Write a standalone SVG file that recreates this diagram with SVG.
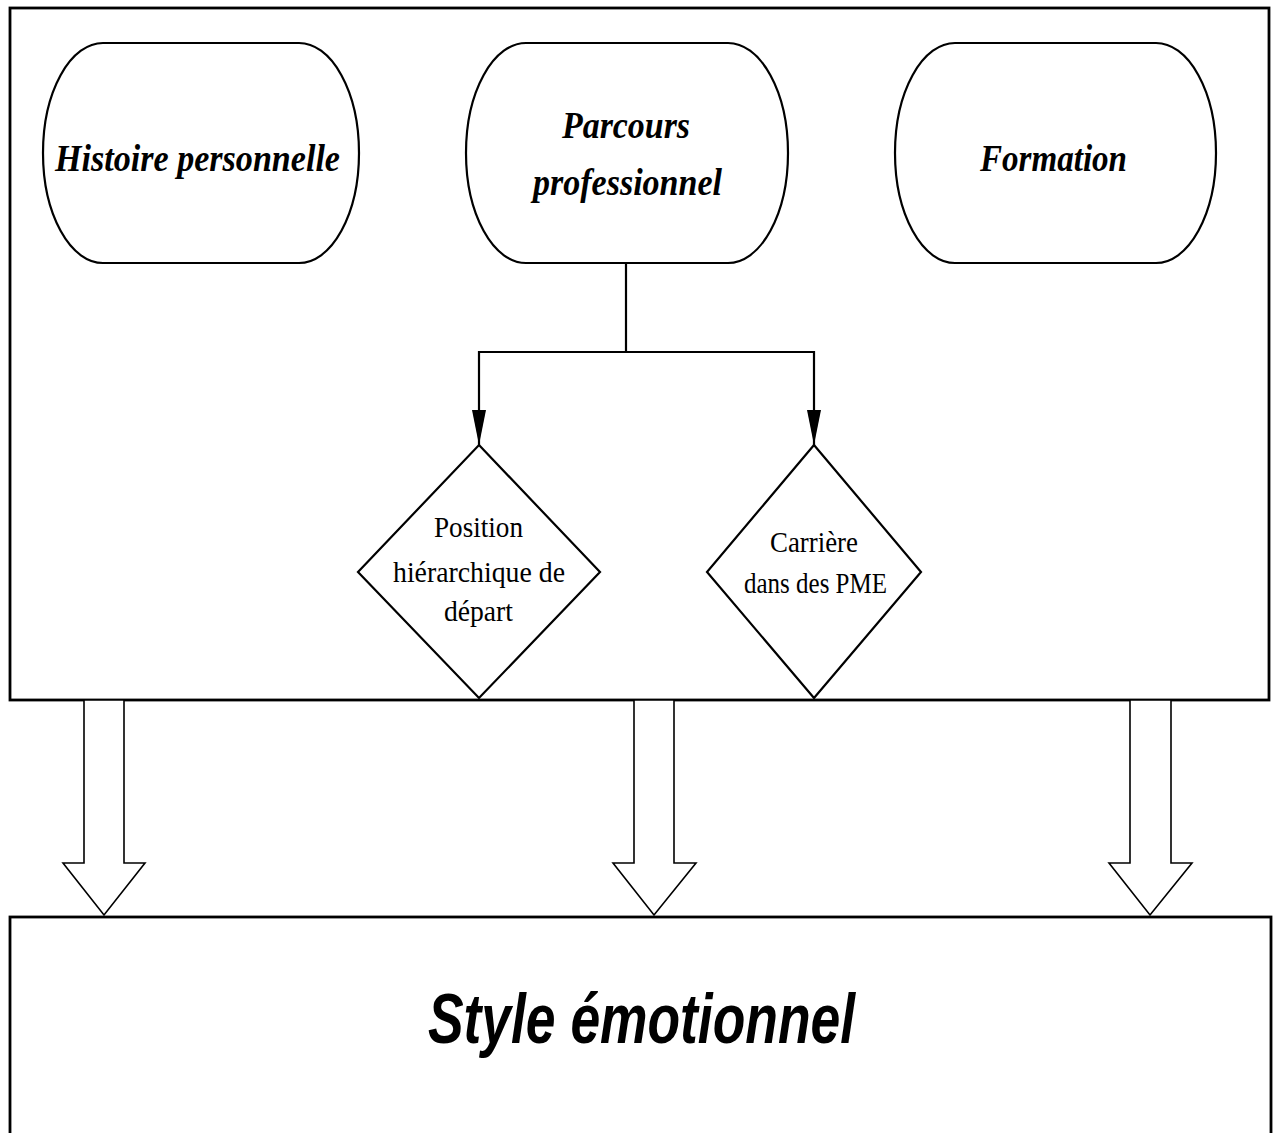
<svg xmlns="http://www.w3.org/2000/svg" width="1274" height="1133" viewBox="0 0 1274 1133">
<style>
.box{fill:#fff;stroke:#000;stroke-width:2.8}
.node{fill:#fff;stroke:#000;stroke-width:2.2}
.big{fill:#fff;stroke:#000;stroke-width:1.6}
.conn{fill:none;stroke:#000;stroke-width:2.2}
.ti{font-family:"Liberation Serif",serif;font-style:italic;font-weight:bold;font-size:38px;fill:#000;text-anchor:start}
.tr{font-family:"Liberation Serif",serif;font-size:29px;fill:#000;text-anchor:start}
.ts{font-family:"Liberation Sans",Arial,sans-serif;font-style:italic;font-weight:bold;font-size:70px;fill:#000}
</style>
<defs>
<marker id="ah" viewBox="0 0 35 14" refX="35" refY="7" markerWidth="35" markerHeight="14" markerUnits="userSpaceOnUse" orient="auto">
<path d="M0,0 L35,7 L0,14 z" fill="#000"/>
</marker>
</defs>
<rect width="1274" height="1133" fill="#fff"/>
<g id="container">
<rect class="box" x="10" y="8" width="1259" height="692"/>
</g>
<g id="style-emotionnel">
<rect class="box" x="10" y="917" width="1261" height="230"/>
<text class="ts" x="428" y="1043" textLength="427" lengthAdjust="spacingAndGlyphs">Style émotionnel</text>
</g>
<g id="histoire">
<rect class="node" x="43" y="43" width="316" height="220" rx="60" ry="110"/>
<text class="ti" x="55" y="171" textLength="285" lengthAdjust="spacingAndGlyphs">Histoire personnelle</text>
</g>
<g id="parcours">
<rect class="node" x="466" y="43" width="322" height="220" rx="60" ry="110"/>
<text class="ti" x="562" y="138" textLength="128" lengthAdjust="spacingAndGlyphs">Parcours</text>
<text class="ti" x="533" y="195" textLength="189" lengthAdjust="spacingAndGlyphs">professionnel</text>
</g>
<g id="formation">
<rect class="node" x="895" y="43" width="321" height="220" rx="60" ry="110"/>
<text class="ti" x="980" y="171" textLength="147" lengthAdjust="spacingAndGlyphs">Formation</text>
</g>
<g id="position">
<polygon class="node" points="479,445 600,572 479,698 358,572"/>
<text class="tr" x="434" y="537" textLength="89" lengthAdjust="spacingAndGlyphs">Position</text>
<text class="tr" x="393" y="582" textLength="172" lengthAdjust="spacingAndGlyphs">hiérarchique de</text>
<text class="tr" x="444" y="621" textLength="69" lengthAdjust="spacingAndGlyphs">départ</text>
</g>
<g id="carriere">
<polygon class="node" points="814,445 921,572 814,698 707,572"/>
<text class="tr" x="770" y="552" textLength="88" lengthAdjust="spacingAndGlyphs">Carrière</text>
<text class="tr" x="744" y="593" textLength="143" lengthAdjust="spacingAndGlyphs">dans des PME</text>
</g>
<g id="connectors">
<path class="conn" d="M626,263 V352 H479 V445" marker-end="url(#ah)"/>
<path class="conn" d="M626,352 H814 V445" marker-end="url(#ah)"/>
<polygon class="big" points="84,700 124,700 124,863 145,863 104,915 63,863 84,863"/>
<polygon class="big" points="634,700 674,700 674,863 696,863 654,915 613,863 634,863"/>
<polygon class="big" points="1130,700 1171,700 1171,863 1192,863 1150,915 1109,863 1130,863"/>
</g>
</svg>
